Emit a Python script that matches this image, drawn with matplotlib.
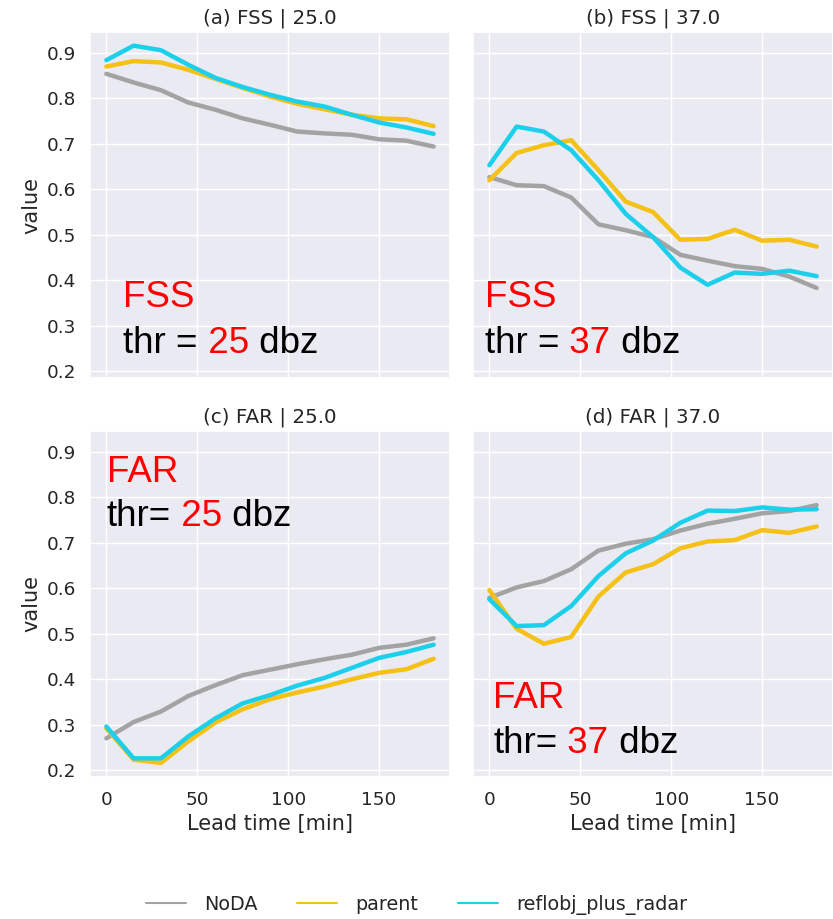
import matplotlib
matplotlib.use('Agg')
import matplotlib.pyplot as plt
import seaborn as sns

# Data
lead = [0, 15, 30, 45, 60, 75, 90, 105, 120, 135, 150, 165, 180]

fss25_noda = [0.854, 0.835, 0.818, 0.791, 0.775, 0.756, 0.742, 0.727, 0.723, 0.720, 0.710, 0.707, 0.694]
fss25_parent = [0.870, 0.882, 0.879, 0.863, 0.843, 0.823, 0.804, 0.788, 0.776, 0.764, 0.756, 0.754, 0.739]
fss25_radar = [0.884, 0.916, 0.906, 0.874, 0.845, 0.825, 0.808, 0.793, 0.782, 0.764, 0.747, 0.736, 0.722]

fss37_noda = [0.627, 0.609, 0.607, 0.582, 0.523, 0.510, 0.495, 0.456, 0.443, 0.431, 0.425, 0.408, 0.383]
fss37_parent = [0.620, 0.680, 0.697, 0.708, 0.642, 0.573, 0.550, 0.489, 0.491, 0.511, 0.487, 0.489, 0.474]
fss37_radar = [0.653, 0.738, 0.727, 0.686, 0.620, 0.546, 0.495, 0.428, 0.390, 0.417, 0.414, 0.421, 0.409]

far25_noda = [0.270, 0.306, 0.329, 0.363, 0.387, 0.409, 0.421, 0.433, 0.444, 0.454, 0.469, 0.476, 0.490]
far25_parent = [0.292, 0.223, 0.216, 0.263, 0.305, 0.334, 0.356, 0.371, 0.384, 0.400, 0.414, 0.422, 0.445]
far25_radar = [0.296, 0.226, 0.226, 0.274, 0.314, 0.347, 0.365, 0.386, 0.403, 0.425, 0.447, 0.460, 0.476]

far37_noda = [0.579, 0.602, 0.616, 0.642, 0.683, 0.698, 0.708, 0.727, 0.742, 0.753, 0.765, 0.770, 0.783]
far37_parent = [0.596, 0.511, 0.478, 0.493, 0.582, 0.635, 0.653, 0.688, 0.703, 0.706, 0.728, 0.722, 0.736]
far37_radar = [0.576, 0.517, 0.519, 0.561, 0.627, 0.677, 0.705, 0.744, 0.771, 0.770, 0.778, 0.773, 0.774]

experiments = ['NoDA', 'parent', 'reflobj_plus_radar']
colors = ['#a3a3a3', '#f5c116', '#1ccfea']

panels = [
    ('(a) FSS | 25.0', [fss25_noda, fss25_parent, fss25_radar], 'FSS', 'thr =', '25'),
    ('(b) FSS | 37.0', [fss37_noda, fss37_parent, fss37_radar], 'FSS', 'thr =', '37'),
    ('(c) FAR | 25.0', [far25_noda, far25_parent, far25_radar], 'FAR', 'thr=', '25'),
    ('(d) FAR | 37.0', [far37_noda, far37_parent, far37_radar], 'FAR', 'thr=', '37'),
]

sns.set_theme(style='darkgrid')
plt.rcParams['font.family'] = ['DejaVu Sans']

W, H = 833, 919
fig = plt.figure(figsize=(W / 100, H / 100), dpi=100)

# axes boxes in pixels: left, top, right, bottom
boxes = [(90, 32, 450, 378), (473, 32, 833, 378),
         (90, 431, 450, 777), (473, 431, 833, 777)]
# label positions in axes fraction: x, y of metric name, y of threshold line
labels_pos = [(0.092, 0.205, 0.072), (0.033, 0.205, 0.072),
              (0.047, 0.853, 0.725), (0.056, 0.199, 0.069)]

axes = []
for i, (l, t, r, b) in enumerate(boxes):
    kw = {}
    if axes:
        kw = dict(sharex=axes[0], sharey=axes[0])
    ax = fig.add_axes([l / W, 1 - b / H, (r - l) / W, (b - t) / H], **kw)
    axes.append(ax)

lines = []
for i, (ax, (title, series, metric, thr, val)) in enumerate(zip(axes, panels)):
    for name, ys, c in zip(experiments, series, colors):
        ln, = ax.plot(lead, ys, color=c, lw=3.2, label=name)
        if i == 0:
            lines.append(ln)
    ax.set_title(title, fontsize=14.3, color='#262626', pad=6)
    ax.set_ylim(0.185, 0.946)
    ax.set_xlim(-9, 189)
    ax.set_yticks([0.2, 0.3, 0.4, 0.5, 0.6, 0.7, 0.8, 0.9])
    ax.set_xticks([0, 50, 100, 150])
    ax.tick_params(labelsize=13.3, colors='#262626', pad=4)
    if i % 2 == 0:
        ax.set_ylabel('value', fontsize=15, color='#262626')
    else:
        ax.tick_params(labelleft=False)
    if i >= 2:
        ax.set_xlabel('Lead time [min]', fontsize=15, color='#262626', labelpad=4)
    else:
        ax.tick_params(labelbottom=False)

    # metric / threshold annotation
    x, y1, y2 = labels_pos[i]
    fnt = dict(fontsize=26.5, family='Liberation Sans')
    ax.text(x, y1, metric, transform=ax.transAxes, color='red', va='baseline', **fnt)
    t1 = ax.text(x, y2, thr, transform=ax.transAxes, color='black', va='baseline', **fnt)
    t2 = ax.annotate(' ' + val, xy=(1, 0), xycoords=t1, va='bottom', color='red', **fnt)
    ax.annotate(' dbz', xy=(1, 0), xycoords=t2, va='bottom', color='black', **fnt)

leg = fig.legend(lines, experiments, loc='center', bbox_to_anchor=(0.5, 1 - 905 / H),
                 ncol=3, frameon=False, fontsize=13.8, handlelength=2.08,
                 columnspacing=2.08, handletextpad=0.94)
for lh in leg.get_lines():
    lh.set_linewidth(1.5)
for txt in leg.get_texts():
    txt.set_color('#262626')

fig.savefig('out.png', dpi=100)
